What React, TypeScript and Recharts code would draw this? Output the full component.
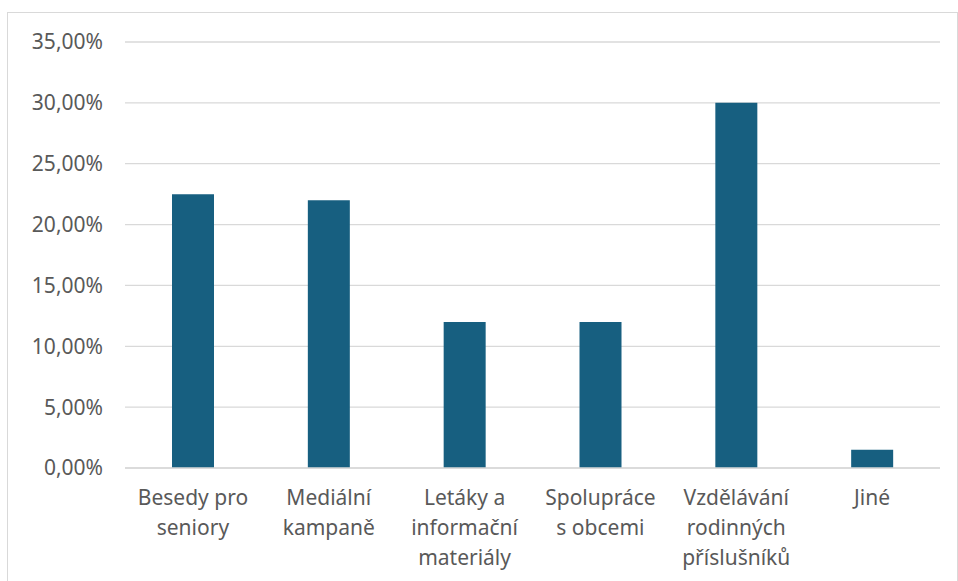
import { BarChart, Bar, XAxis, YAxis, CartesianGrid } from "recharts";

const categories = [
  "Besedy pro\nseniory",
  "Mediální\nkampaně",
  "Letáky a\ninformační\nmateriály",
  "Spolupráce\ns obcemi",
  "Vzdělávání\nrodinných\npříslušníků",
  "Jiné",
];
const shares = [22.5, 22.0, 12.0, 12.0, 30.0, 1.5];
const yTicks = [0, 5, 10, 15, 20, 25, 30, 35];

const data = categories.map((name, i) => ({ name, value: shares[i] }));

const FONT = "'Noto Sans', sans-serif";
const TEXT = "#595959";

const fmt = (v: number) => v.toFixed(2).replace(".", ",") + "%";

function CategoryTick(props: any) {
  const { x, y, payload } = props;
  const lines = String(payload.value).split("\n");
  return (
    <text x={x} y={y} textAnchor="middle" fill={TEXT} fontSize={21} fontFamily={FONT}>
      {lines.map((line, i) => (
        <tspan key={i} x={x} dy={i === 0 ? 0 : 30}>
          {line}
        </tspan>
      ))}
    </text>
  );
}

export default function App() {
  return (
    <div style={{ position: "fixed", left: 0, top: 0, width: 958, height: 581, background: "#fff", overflow: "hidden" }}>
      <div
        style={{
          position: "absolute",
          left: 7,
          top: 12,
          width: 949,
          height: 620,
          border: "1px solid #d9d9d9",
        }}
      />
      <BarChart
        width={958}
        height={581}
        data={data}
        margin={{ top: 42, right: 18, bottom: 83, left: 0 }}
        barCategoryGap={0}
      >
        <CartesianGrid vertical={false} stroke="#d9d9d9" strokeWidth={1.3} />
        <XAxis
          dataKey="name"
          interval={0}
          tickLine={false}
          axisLine={{ stroke: "#d9d9d9", strokeWidth: 1.3 }}
          tickSize={0}
          tickMargin={0}
          tick={(p: any) => <CategoryTick {...p} y={505} />}
        />
        <YAxis
          width={125}
          domain={[0, 35]}
          ticks={yTicks}
          interval={0}
          axisLine={false}
          tickLine={false}
          tickSize={0}
          tickMargin={22}
          tickFormatter={fmt}
          tick={{ fill: TEXT, fontSize: 21, fontFamily: FONT }}
        />
        <Bar dataKey="value" fill="#175f80" barSize={42} isAnimationActive={false} />
      </BarChart>
    </div>
  );
}
